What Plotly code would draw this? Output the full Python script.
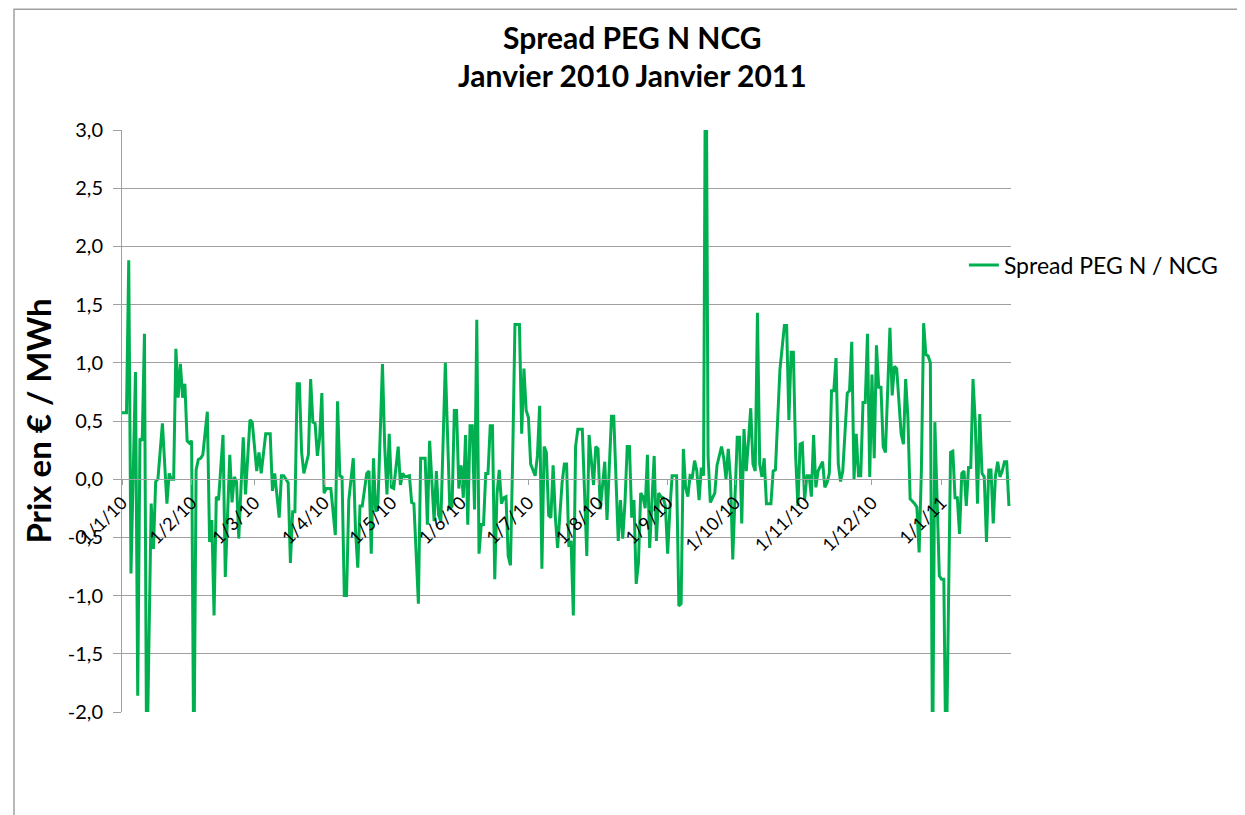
import pandas as pd
import plotly.graph_objects as go

# Spread PEG Nord / NCG, daily values (EUR/MWh)
start_date = "2010-01-01"
day_offset = [
    0, 2, 3, 4, 6, 7, 8, 9, 10, 11, 13, 14, 15, 16, 18, 20, 21, 22, 23, 24,
    25, 26, 27, 28, 29, 30, 31, 32, 33, 34, 35, 36, 38, 39, 40, 41, 42, 43, 45, 46,
    48, 49, 50, 51, 52, 54, 55, 57, 58, 60, 61, 62, 64, 66, 67, 68, 70, 71, 72, 74,
    75, 76, 77, 78, 79, 80, 81, 83, 84, 85, 86, 87, 88, 89, 90, 91, 93, 95, 96, 97,
    98, 99, 100, 101, 103, 104, 105, 106, 107, 109, 110, 111, 112, 113, 114, 116, 117, 118, 119, 120,
    121, 123, 124, 125, 126, 128, 129, 130, 132, 133, 135, 136, 137, 138, 139, 140, 141, 142, 144, 146,
    147, 148, 149, 150, 151, 152, 153, 154, 155, 156, 157, 158, 159, 160, 161, 162, 163, 164, 165, 166,
    167, 168, 169, 170, 171, 172, 173, 174, 175, 177, 178, 179, 180, 181, 182, 184, 185, 186, 187, 188,
    189, 190, 191, 192, 193, 194, 196, 197, 198, 199, 200, 201, 202, 203, 205, 207, 208, 210, 211, 212,
    213, 215, 216, 218, 219, 221, 222, 223, 224, 225, 226, 227, 228, 229, 230, 231, 232, 233, 234, 235,
    236, 237, 238, 239, 240, 241, 242, 243, 244, 245, 247, 248, 249, 250, 251, 252, 253, 254, 255, 256,
    257, 258, 259, 260, 261, 262, 264, 265, 267, 268, 269, 270, 271, 272, 273, 274, 275, 276, 277, 278,
    279, 280, 281, 282, 283, 284, 285, 286, 287, 289, 290, 291, 293, 295, 296, 297, 298, 299, 300, 301,
    302, 303, 304, 305, 306, 307, 308, 309, 310, 312, 313, 314, 315, 316, 317, 318, 319, 320, 321, 323,
    324, 325, 326, 327, 328, 329, 330, 331, 332, 333, 334, 335, 336, 337, 338, 339, 340, 341, 342, 343,
    344, 345, 346, 347, 348, 349, 350, 351, 352, 353, 354, 355, 356, 357, 358, 359, 360, 361, 362, 364,
    365, 366, 367, 369, 370, 371, 372, 373, 374, 375, 376, 377, 378, 379, 380, 381, 382, 383, 384, 385,
    386, 387, 388, 389, 390, 391, 392, 393, 394, 395,
]
spread = [
    0.57, 0.57, 1.88, -0.81, 0.92, -1.86, 0.35, 0.33, 1.25, -2.6, -0.21, -0.6, -0.02, 0.0, 0.48, -0.21, 0.05, 0.0, 0.0, 1.12,
    0.7, 0.99, 0.7, 0.82, 0.33, 0.31, 0.33, -2.6, 0.08, 0.17, 0.18, 0.21, 0.58, -0.54, -0.35, -1.17, -0.15, -0.18, 0.38, -0.84,
    0.21, -0.2, 0.02, -0.02, -0.51, 0.36, -0.13, 0.51, 0.49, 0.07, 0.23, 0.05, 0.39, 0.39, -0.1, 0.05, -0.33, 0.03, 0.03, -0.03,
    -0.72, -0.28, -0.28, 0.82, 0.82, 0.23, 0.05, 0.21, 0.86, 0.49, 0.48, 0.2, 0.35, 0.74, -0.12, -0.08, -0.08, -0.48, 0.67, 0.03,
    0.02, -1.0, -1.0, -0.18, 0.18, -0.44, -0.76, -0.23, -0.23, 0.05, 0.07, -0.64, 0.18, -0.28, -0.2, 0.99, 0.28, -0.13, 0.39, -0.07,
    -0.08, 0.28, -0.05, 0.05, 0.02, 0.03, -0.2, -0.21, -1.07, 0.18, 0.18, -0.39, 0.33, -0.08, -0.36, 0.07, -0.31, -0.36, 1.0, -0.26,
    -0.23, 0.59, 0.59, -0.08, 0.12, -0.16, 0.38, -0.39, 0.46, 0.46, -0.26, 1.37, -0.64, -0.39, -0.39, 0.05, 0.05, 0.46, 0.46, -0.86,
    -0.13, 0.08, -0.21, -0.16, -0.15, -0.66, -0.74, 0.2, 1.33, 1.33, 0.39, 0.95, 0.59, 0.53, 0.13, 0.03, 0.2, 0.63, -0.77, 0.28,
    0.23, -0.31, -0.33, 0.12, -0.33, -0.59, -0.03, 0.13, 0.13, -0.58, -0.53, -1.17, 0.28, 0.43, 0.43, -0.66, 0.38, -0.05, 0.28, 0.26,
    -0.26, 0.15, -0.35, 0.54, 0.54, -0.53, -0.18, -0.51, -0.2, 0.28, 0.28, -0.33, -0.18, -0.9, -0.72, -0.12, -0.15, -0.25, 0.21, -0.59,
    -0.18, 0.2, -0.53, -0.12, -0.15, -0.16, -0.23, -0.64, -0.26, 0.03, 0.03, -1.09, -1.07, 0.26, -0.07, -0.15, 0.03, 0.02, 0.16, 0.07,
    -0.18, 0.1, 0.03, 4.5, 0.2, -0.2, -0.12, 0.12, 0.28, 0.18, 0.0, 0.26, 0.0, -0.69, -0.15, 0.36, 0.36, -0.38, 0.43, 0.07,
    0.33, 0.61, 0.13, 0.07, 1.43, 0.13, 0.02, 0.18, -0.21, -0.21, 0.07, 0.08, 0.94, 1.32, 1.32, 0.51, 1.09, 1.09, 0.2, -0.23,
    0.3, 0.31, -0.18, 0.03, 0.03, -0.15, 0.38, -0.07, 0.07, 0.15, -0.07, -0.03, 0.05, 0.76, 0.76, 1.04, 0.13, -0.02, 0.07, 0.74,
    0.76, 1.18, 0.0, 0.39, 0.03, 0.03, 0.66, 0.66, 1.25, 0.02, 0.9, 0.18, 1.15, 0.79, 0.79, 0.28, 0.23, 0.74, 1.3, 0.72,
    0.97, 0.95, 0.69, 0.39, 0.3, 0.86, 0.53, -0.17, -0.19, -0.21, -0.24, -0.63, 0.07, 1.34, 1.07, 1.06, 1.0, -2.6, 0.49, -0.83,
    -0.86, -0.86, -2.6, 0.23, 0.24, -0.16, -0.16, -0.47, 0.05, 0.07, -0.23, 0.1, 0.1, 0.86, 0.49, -0.21, 0.56, 0.05, 0.02, -0.54,
    0.08, 0.08, -0.38, 0.03, 0.15, 0.02, 0.07, 0.15, 0.15, -0.23,
]
y_ticks = [3.0, 2.5, 2.0, 1.5, 1.0, 0.5, 0.0, -0.5, -1.0, -1.5, -2.0]
y_tick_labels = ["3,0", "2,5", "2,0", "1,5", "1,0", "0,5", "0,0", "-0,5", "-1,0", "-1,5", "-2,0"]
title_lines = ["Spread PEG N NCG", "Janvier 2010 Janvier 2011"]

dates = pd.Timestamp(start_date) + pd.to_timedelta(day_offset, unit="D")

GREEN = "#00b050"
GRID = "#a0a0a0"
FONT = "Lato, 'Open Sans', sans-serif"

fig = go.Figure()
fig.add_trace(go.Scatter(
    x=dates, y=spread, mode="lines", name="Spread PEG N / NCG",
    line=dict(color=GREEN, width=3),
))

# page body adds 8px around the figure, so size is trimmed to fit the window
fig.update_layout(
    width=1237, height=807,
    margin=dict(l=114, r=234, t=122, b=103),
    plot_bgcolor="white", paper_bgcolor="white",
    separators=", ",
    font=dict(family=FONT, color="#000000", size=18),
    showlegend=True,
    legend=dict(
        x=0.947, y=0.768, xanchor="left", yanchor="middle",
        bgcolor="rgba(0,0,0,0)", font=dict(size=23, family=FONT),
    ),
    shapes=[dict(
        type="rect", xref="paper", yref="paper",
        x0=-0.1215, x1=1.5, y0=-0.5, y1=1.2075,
        line=dict(color=GRID, width=1.5), layer="below",
    )],
    annotations=[
        dict(text=f"<b>{title_lines[0]}</b>", xref="paper", yref="paper",
             x=0.5748, y=1.160, xanchor="center", yanchor="middle",
             showarrow=False, font=dict(size=30, family=FONT)),
        dict(text=f"<b>{title_lines[1]}</b>", xref="paper", yref="paper",
             x=0.5748, y=1.094, xanchor="center", yanchor="middle",
             showarrow=False, font=dict(size=30, family=FONT)),
    ],
)

fig.update_xaxes(
    type="date",
    range=["2010-01-01", "2011-01-31 22:00"],
    tick0="2010-01-01", dtick="M1", tickformat="%-d/%-m/%y",
    tickangle=-45, tickfont=dict(size=18),
    anchor="free", position=0.4,
    showline=True, linecolor=GRID, linewidth=1,
    ticks="outside", ticklen=5, tickcolor=GRID,
    showgrid=False, zeroline=False, automargin=False,
)
fig.update_yaxes(
    range=[-2, 3], tickmode="array", tickvals=y_ticks, ticktext=y_tick_labels,
    showgrid=True, gridcolor=GRID, gridwidth=1,
    showline=True, linecolor=GRID, linewidth=1,
    ticks="outside", ticklen=8, tickcolor=GRID,
    zeroline=False, automargin=False, tickfont=dict(size=20),
    ticklabelstandoff=6,
    title=dict(text="<b>Prix en € / MWh</b>", font=dict(size=33, family=FONT), standoff=6),
)

fig.write_html("out.html")
